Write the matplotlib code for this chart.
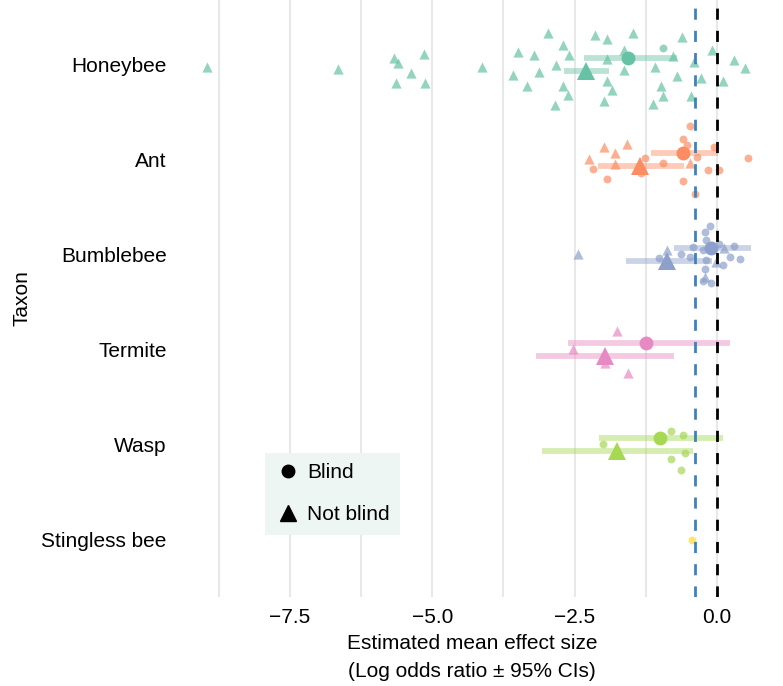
import matplotlib
matplotlib.use('Agg')
import matplotlib.pyplot as plt
from matplotlib.lines import Line2D

plt.rcParams['font.family'] = ['Liberation Sans', 'DejaVu Sans']

taxa = ['Honeybee', 'Ant', 'Bumblebee', 'Termite', 'Wasp', 'Stingless bee']
colors = ['#66c2a5', '#fc8d62', '#8da0cb', '#e78ac3', '#a6d854', '#ffd92f']

# individual effect sizes (log odds ratio) and their vertical jitter
honeybee_blind = [-0.95]
honeybee_blind_jit = [-0.18]
honeybee_nb = [-8.96, -6.66, -5.68, -5.60, -5.15, -5.37, -5.64, -5.12, -4.12, -3.50,
               -3.22, -3.59, -3.34, -3.12, -2.96, -2.71, -2.60, -2.82, -2.71, -2.62,
               -2.85, -2.14, -1.93, -1.47, -1.64, -1.94, -1.63, -1.93, -1.84, -1.99,
               -0.61, -0.77, -1.09, -0.71, -0.99, -0.95, -1.12, -0.40, -0.29, -0.45,
               -0.08, 0.10, 0.29, 0.50]
honeybee_nb_jit = [0.03, 0.05, -0.07, -0.02, -0.11, 0.09, 0.19, 0.19, 0.02, -0.13,
                   -0.10, 0.11, 0.22, 0.08, -0.33, -0.21, -0.10, 0.00, 0.22, 0.32,
                   0.43, -0.31, -0.27, -0.33, -0.15, -0.06, 0.06, 0.17, 0.27, 0.38,
                   -0.29, -0.09, 0.02, 0.12, 0.22, 0.33, 0.41, -0.03, 0.14, 0.33,
                   -0.15, 0.17, -0.05, 0.04]

ant_blind = [-2.18, -1.93, -1.34, -1.27, -0.94, -0.47, -0.59, -0.53, -0.36, -0.06,
             -0.59, -0.15, 0.04, -0.38, 0.54]
ant_blind_jit = [0.10, 0.20, 0.14, -0.02, 0.04, -0.35, -0.22, -0.15, -0.03, -0.13,
                 0.22, 0.11, 0.11, 0.36, -0.02]
ant_nb = [-2.24, -1.99, -1.79, -1.58, -1.79, -0.47]
ant_nb_jit = [-0.01, -0.13, -0.07, -0.16, 0.05, 0.03]

bumblebee_blind = [-0.12, -0.21, -0.19, -0.24, -0.43, -0.63, -0.47, -1.01, -0.19, 0.04,
                   0.29, 0.22, 0.41, 0.10, -0.21, -0.25, -0.11]
bumblebee_blind_jit = [-0.30, -0.24, -0.15, -0.05, -0.08, -0.01, 0.02, 0.03, 0.06, -0.11,
                       -0.09, 0.02, 0.05, 0.11, 0.15, 0.28, 0.30]
bumblebee_nb = [-2.44, -0.88, 0.12, -0.01, -0.21]
bumblebee_nb_jit = [-0.01, -0.05, -0.07, 0.08, 0.23]

termite_blind = []
termite_blind_jit = []
termite_nb = [-1.75, -2.53, -1.97, -1.57]
termite_nb_jit = [-0.20, -0.01, 0.14, 0.25]

wasp_blind = [-2.00, -0.80, -0.60, -0.57, -0.81, -0.63]
wasp_blind_jit = [-0.01, -0.15, -0.10, 0.09, 0.15, 0.27]
wasp_nb = []
wasp_nb_jit = []

stingless_blind = [-0.44]
stingless_blind_jit = [0.0]
stingless_nb = []
stingless_nb_jit = []

blind_pts = [(honeybee_blind, honeybee_blind_jit), (ant_blind, ant_blind_jit),
             (bumblebee_blind, bumblebee_blind_jit), (termite_blind, termite_blind_jit),
             (wasp_blind, wasp_blind_jit), (stingless_blind, stingless_blind_jit)]
nb_pts = [(honeybee_nb, honeybee_nb_jit), (ant_nb, ant_nb_jit),
          (bumblebee_nb, bumblebee_nb_jit), (termite_nb, termite_nb_jit),
          (wasp_nb, wasp_nb_jit), (stingless_nb, stingless_nb_jit)]

# model estimates with 95% CIs (no estimate for stingless bee)
blind_mean = [-1.56, -0.60, -0.11, -1.24, -1.00]
blind_lo = [-2.34, -1.16, -0.75, -2.62, -2.07]
blind_hi = [-0.71, 0.02, 0.59, 0.22, 0.11]
nb_mean = [-2.30, -1.35, -0.87, -1.97, -1.75]
nb_lo = [-2.69, -2.09, -1.59, -3.18, -3.08]
nb_hi = [-1.89, -0.58, -0.09, -0.76, -0.42]

overall_mean = -0.39

fig = plt.figure(figsize=(7.83, 6.86), dpi=100)
ax = fig.add_axes([0.243, 0.130, 0.720, 0.870])

for i, c in enumerate(colors):
    vals, jit = blind_pts[i]
    ax.scatter(vals, [i + j for j in jit], marker='o', s=32, color=c, alpha=0.7,
               linewidths=0, zorder=3)
    vals, jit = nb_pts[i]
    ax.scatter(vals, [i + j for j in jit], marker='^', s=54, color=c, alpha=0.7,
               linewidths=0, zorder=3)

dodge = 0.07
for i in range(len(blind_mean)):
    c = colors[i]
    ax.plot([blind_lo[i], blind_hi[i]], [i - dodge, i - dodge], color=c, lw=4.2,
            alpha=0.45, solid_capstyle='butt', zorder=4)
    ax.plot([nb_lo[i], nb_hi[i]], [i + dodge, i + dodge], color=c, lw=4.2,
            alpha=0.45, solid_capstyle='butt', zorder=4)
    ax.plot(blind_mean[i], i - dodge, marker='o', ms=10, color=c, mew=0, zorder=5)
    ax.plot(nb_mean[i], i + dodge, marker='^', ms=12.5, color=c, mew=0, zorder=5)

ax.axvline(overall_mean, color='#3b83bd', lw=2, linestyle=(0, (4, 4)), zorder=6)
ax.axvline(0, color='black', lw=2, linestyle=(0, (4, 4)), zorder=6)

ax.set_xlim(-9.25, 0.65)
ax.set_ylim(5.6, -0.68)
ax.set_xticks([-7.5, -5.0, -2.5, 0.0])
ax.set_xticks([-8.75, -6.25, -3.75, -1.25], minor=True)
ax.set_yticks(range(len(taxa)))
ax.set_yticklabels(taxa)
ax.grid(axis='x', which='both', color='#e8e8e8', lw=1.5, zorder=0)
ax.set_axisbelow(True)
for s in ax.spines.values():
    s.set_visible(False)
ax.tick_params(axis='both', which='both', length=0, labelsize=15)
ax.tick_params(axis='y', pad=17)
ax.tick_params(axis='x', pad=8)
ax.set_xlabel('Estimated mean effect size\n(Log odds ratio ± 95% CIs)', fontsize=15,
              labelpad=5, linespacing=1.6)
ax.set_ylabel('Taxon', fontsize=15, labelpad=7)

handles = [Line2D([], [], marker='o', color='black', ls='none', ms=9),
           Line2D([], [], marker='^', color='black', ls='none', ms=12)]
leg = ax.legend(handles, ['Blind', 'Not blind'], loc='upper left',
                bbox_to_anchor=(0.133, 0.241), borderaxespad=0, fontsize=15,
                frameon=True, fancybox=False, facecolor='#edf6f2', edgecolor='none',
                framealpha=1, handletextpad=0.3, labelspacing=1.1, borderpad=0.5,
                handlelength=1.2)

fig.savefig('out.png', dpi=100)
